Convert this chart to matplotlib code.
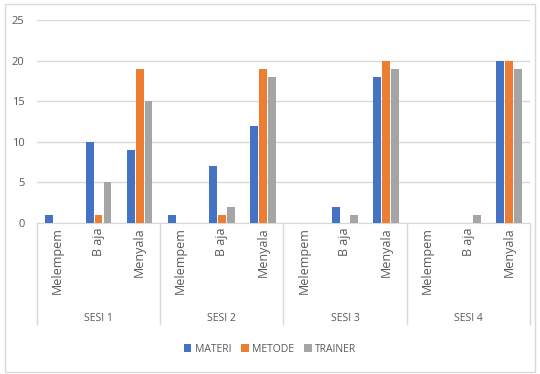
import numpy as np
import matplotlib.pyplot as plt
from matplotlib.patches import Rectangle

plt.rcParams['font.family'] = ['Open Sans', 'DejaVu Sans']

sessions = ['SESI 1', 'SESI 2', 'SESI 3', 'SESI 4']
levels = ['Melempem', 'B aja', 'Menyala']
materi = [1, 10, 9, 1, 7, 12, 0, 2, 18, 0, 0, 20]
metode = [0, 1, 19, 0, 1, 19, 0, 0, 20, 0, 0, 20]
trainer = [0, 5, 15, 0, 2, 18, 0, 1, 19, 0, 1, 19]
series = {'MATERI': (materi, '#4472C4'),
          'METODE': (metode, '#ED7D31'),
          'TRAINER': (trainer, '#A5A5A5')}

txt = '#595959'
fig = plt.figure(figsize=(5.4, 3.74), dpi=100)
fig.patches.append(Rectangle((0.01, 0.005), 0.98, 0.985, transform=fig.transFigure,
                             fill=False, edgecolor='#D9D9D9', linewidth=1))
ax = fig.add_axes([0.0685, 0.404, 0.9125, 0.5425])

n = len(materi)
x = np.arange(n)
w = 0.19
for i, (name, (vals, col)) in enumerate(series.items()):
    ax.bar(x + (i - 1) * 0.215, vals, width=w, color=col, label=name, zorder=3)

ax.set_xlim(-0.5, n - 0.5)
ax.set_ylim(0, 25)
ax.set_yticks(range(0, 26, 5))
ax.yaxis.grid(True, color='#D9D9D9', linewidth=1, zorder=0)
for s in ['left', 'right', 'top']:
    ax.spines[s].set_visible(False)
ax.spines['bottom'].set_color('#D9D9D9')
ax.tick_params(axis='y', length=0, labelsize=8, labelcolor=txt, pad=9)
ax.set_xticks(x)
ax.set_xticklabels(levels * 4, rotation=90, fontsize=9, color=txt, va='top')
ax.tick_params(axis='x', length=0, pad=3)

# group separators and session labels
trans = ax.get_xaxis_transform()
for k in range(len(sessions) + 1):
    ax.plot([k * 3 - 0.5] * 2, [0, -0.5], transform=trans, color='#D9D9D9',
            linewidth=1, clip_on=False)
for k, s in enumerate(sessions):
    ax.text(k * 3 + 1, -0.47, s, transform=trans, ha='center', va='center',
            fontsize=7.5, color=txt)

fig.legend(loc='center', bbox_to_anchor=(0.5, 1 - 349 / 374), ncol=3, frameon=False,
           fontsize=7.5, labelcolor=txt, handlelength=0.7, handleheight=0.7,
           handletextpad=0.3, columnspacing=1.0)

fig.savefig('out.png', dpi=100)
